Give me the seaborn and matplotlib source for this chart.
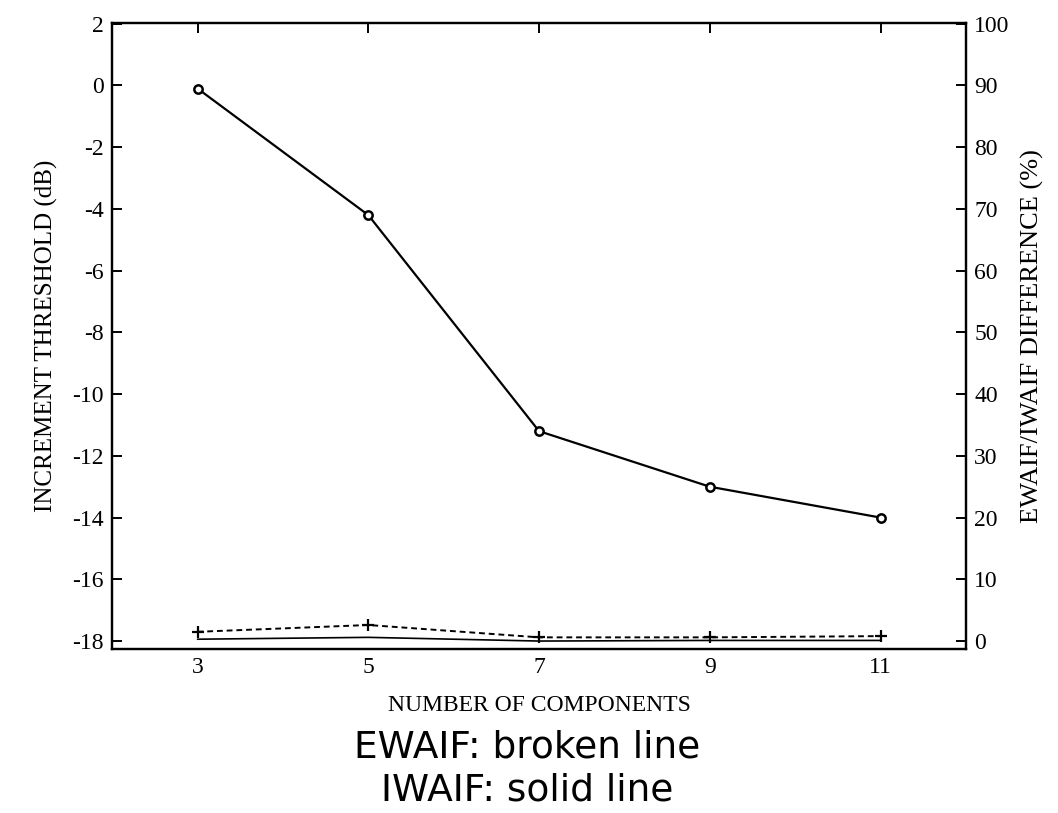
import matplotlib
matplotlib.use("Agg")
import matplotlib.pyplot as plt
import seaborn as sns
import pandas as pd

components = [3, 5, 7, 9, 11]
threshold_db = [-0.1, -4.2, -11.2, -13.0, -14.0]
ewaif_pct = [1.5, 2.6, 0.6, 0.6, 0.8]
iwaif_pct = [0.3, 0.6, 0.0, 0.1, 0.1]

sns.set_theme(style="white")
plt.rcParams['font.family'] = ['Liberation Serif', 'DejaVu Serif']
plt.rcParams['axes.unicode_minus'] = False
plt.rcParams['text.color'] = 'black'
plt.rcParams['axes.labelcolor'] = 'black'

fig = plt.figure(figsize=(10.58, 8.13), dpi=100)
ax = fig.add_axes([0.106, 0.202, 0.807, 0.770])
ax2 = ax.twinx()

df1 = pd.DataFrame({"x": components, "y": threshold_db})
sns.lineplot(data=df1, x="x", y="y", ax=ax, color="black", linewidth=1.6,
             marker="o", markersize=6, markerfacecolor="white",
             markeredgecolor="black", markeredgewidth=1.8)

df2 = pd.DataFrame({"x": components, "y": ewaif_pct})
sns.lineplot(data=df2, x="x", y="y", ax=ax2, color="black", linewidth=1.4,
             linestyle=(0, (3, 2)), marker="+", markersize=9,
             markeredgecolor="black", markeredgewidth=1.6)
df3 = pd.DataFrame({"x": components, "y": iwaif_pct})
sns.lineplot(data=df3, x="x", y="y", ax=ax2, color="black", linewidth=1.2)

ax.set_xlim(2, 12)
ax.set_ylim(-18.25, 2.03)
ax2.set_ylim(-1.25, 100.15)
ax.set_xticks(components)
ax.set_yticks(list(range(-18, 3, 2)))
ax2.set_yticks(list(range(0, 101, 10)))

for a in (ax, ax2):
    for s in a.spines.values():
        s.set_color("black")
        s.set_linewidth(1.6)
    a.tick_params(direction="in", length=7, width=1.4, colors="black",
                  labelsize=17, top=True, pad=6)

ax.set_xlabel("NUMBER OF COMPONENTS", fontsize=17, labelpad=12)
ax.set_ylabel("INCREMENT THRESHOLD (dB)", fontsize=18, labelpad=10)
ax2.set_ylabel("EWAIF/IWAIF DIFFERENCE (%)", fontsize=19, labelpad=8)

fig.text(0.498, 0.080, "EWAIF: broken line", ha="center", va="center",
         fontsize=27, family=["DejaVu Sans"], color="black")
fig.text(0.498, 0.028, "IWAIF: solid line", ha="center", va="center",
         fontsize=27, family=["DejaVu Sans"], color="black")

fig.savefig("out.png", dpi=100)
